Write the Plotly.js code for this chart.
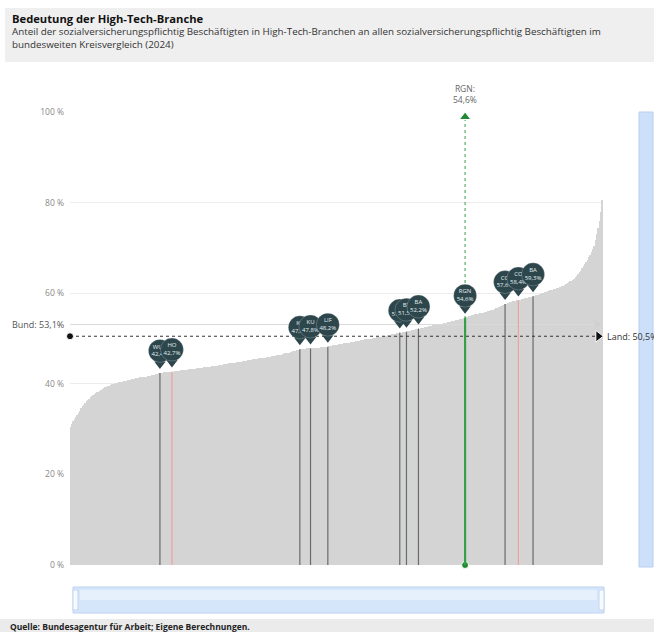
<!DOCTYPE html>
<html lang="de">
<head>
<meta charset="utf-8">
<script src="https://cdn.plot.ly/plotly-3.0.1.min.js"></script>
<style>
  html, body { margin: 0; padding: 0; background: #ffffff; }
  #chart { width: 654px; height: 632px; }
</style>
</head>
<body>
<div id="chart"></div>
<script>
// Anteil High-Tech-Beschäftigte je Kreis (sortiert, 400 Kreise), in %
const kreisWerte = [
  30.5, 31.2, 31.8, 32.3, 32.7, 33.1, 33.6, 34.1, 34.6, 35.0, 35.4, 35.8, 36.1, 36.4, 36.7, 37.0, 37.2, 37.5, 37.7, 37.9,
  38.1, 38.3, 38.5, 38.7, 38.9, 39.0, 39.2, 39.3, 39.5, 39.6, 39.8, 39.9, 40.0, 40.0, 40.1, 40.2, 40.3, 40.4, 40.4, 40.5,
  40.6, 40.7, 40.7, 40.8, 40.9, 40.9, 41.0, 41.1, 41.1, 41.2, 41.3, 41.3, 41.4, 41.4, 41.5, 41.5, 41.6, 41.6, 41.7, 41.8,
  41.8, 41.9, 42.0, 42.0, 42.1, 42.2, 42.3, 42.4, 42.4, 42.4, 42.5, 42.5, 42.5, 42.6, 42.6, 42.6, 42.7, 42.7, 42.8, 42.8,
  42.8, 42.9, 42.9, 43.0, 43.0, 43.0, 43.1, 43.1, 43.1, 43.2, 43.2, 43.2, 43.3, 43.3, 43.3, 43.4, 43.4, 43.4, 43.5, 43.5,
  43.6, 43.6, 43.7, 43.7, 43.8, 43.8, 43.9, 43.9, 44.0, 44.0, 44.0, 44.1, 44.1, 44.2, 44.2, 44.3, 44.3, 44.4, 44.4, 44.5,
  44.5, 44.6, 44.6, 44.7, 44.7, 44.8, 44.8, 44.9, 44.9, 45.0, 45.0, 45.1, 45.1, 45.2, 45.2, 45.3, 45.3, 45.4, 45.4, 45.5,
  45.5, 45.6, 45.6, 45.7, 45.7, 45.8, 45.8, 45.9, 45.9, 46.0, 46.0, 46.1, 46.1, 46.2, 46.2, 46.3, 46.3, 46.4, 46.4, 46.5,
  46.6, 46.7, 46.8, 46.9, 46.9, 47.0, 47.1, 47.2, 47.2, 47.3, 47.4, 47.5, 47.6, 47.6, 47.7, 47.7, 47.7, 47.8, 47.8, 47.8,
  47.8, 47.9, 47.9, 47.9, 48.0, 48.0, 48.0, 48.0, 48.1, 48.1, 48.1, 48.1, 48.2, 48.2, 48.3, 48.4, 48.4, 48.5, 48.5, 48.6,
  48.6, 48.7, 48.7, 48.8, 48.8, 48.9, 48.9, 49.0, 49.0, 49.1, 49.2, 49.2, 49.3, 49.3, 49.4, 49.4, 49.5, 49.5, 49.6, 49.7,
  49.7, 49.8, 49.8, 49.9, 49.9, 50.0, 50.0, 50.1, 50.1, 50.2, 50.3, 50.3, 50.4, 50.4, 50.5, 50.5, 50.6, 50.6, 50.7, 50.8,
  50.8, 50.9, 51.0, 51.0, 51.1, 51.2, 51.2, 51.3, 51.3, 51.4, 51.4, 51.5, 51.5, 51.6, 51.7, 51.7, 51.8, 51.9, 51.9, 52.0,
  52.1, 52.2, 52.2, 52.3, 52.4, 52.4, 52.5, 52.6, 52.6, 52.7, 52.8, 52.8, 52.9, 52.9, 53.0, 53.1, 53.1, 53.2, 53.2, 53.3,
  53.4, 53.4, 53.5, 53.6, 53.6, 53.7, 53.8, 53.8, 53.9, 54.0, 54.0, 54.1, 54.2, 54.3, 54.4, 54.5, 54.6, 54.7, 54.8, 54.9,
  55.0, 55.1, 55.2, 55.3, 55.4, 55.5, 55.5, 55.6, 55.6, 55.7, 55.7, 55.8, 55.9, 56.0, 56.1, 56.2, 56.3, 56.4, 56.5, 56.7,
  56.8, 56.9, 57.0, 57.1, 57.3, 57.4, 57.6, 57.7, 57.8, 57.9, 58.0, 58.1, 58.2, 58.3, 58.3, 58.4, 58.4, 58.5, 58.6, 58.7,
  58.8, 58.9, 59.0, 59.0, 59.1, 59.2, 59.2, 59.3, 59.4, 59.5, 59.6, 59.7, 59.8, 59.9, 60.0, 60.1, 60.2, 60.3, 60.4, 60.5,
  60.6, 60.7, 60.8, 60.9, 61.0, 61.1, 61.2, 61.3, 61.4, 61.5, 61.7, 61.8, 62.0, 62.2, 62.4, 62.6, 62.8, 63.0, 63.2, 63.5,
  63.8, 64.2, 64.6, 65.0, 65.5, 66.0, 66.4, 66.8, 67.3, 67.9, 68.5, 69.1, 69.8, 70.5, 71.7, 73.0, 74.5, 76.0, 78.0, 80.5
];

// Hervorgehobene Kreise der Region: Rangposition, Kürzel, Typ
const markerRang    = [67, 76, 172, 180, 193, 247, 252, 261, 296, 326, 336, 347];
const markerKuerzel = ['WUN', 'HO', 'KC', 'KU', 'LIF', 'FO', 'BT', 'BA', 'RGN', 'CO', 'CO', 'BA'];
const markerTyp     = ['lk', 'sk', 'lk', 'lk', 'lk', 'lk', 'lk', 'lk', 'rgn', 'lk', 'sk', 'lk'];

// Vergleichswerte
const bundWert = 53.1;
const landWert = 50.5;
const regionWert = 54.6;

const yTicks = [0, 20, 40, 60, 80, 100];
const yTickText = ['0 %', '20 %', '40 %', '60 %', '80 %', '100 %'];

// Plot geometry (pixels)
const W = 654, H = 632;
const M = { l: 70, r: 51, t: 112, b: 67 };
const plotW = W - M.l - M.r, plotH = H - M.t - M.b;
const Y_MAX = 100;
const PX = Y_MAX / plotH;                 // one pixel in y data units
const px2x = p => (p - M.l) / plotW;      // page x -> paper x
const py2y = p => (H - M.b - p) / plotH;  // page y -> paper y

const fmt = v => v.toFixed(1).replace('.', ',') + '%';
const FONT = '"Open Sans", "Noto Sans", sans-serif';
const lineColor = { lk: '#666b6d', sk: '#f2a0a0', rgn: '#35a048' };
const pinColor = '#2c464c';

const idx = kreisWerte.map((_, i) => i);
const traces = [];

// Sorted distribution as bars (slightly widened so neighbouring bars close up)
traces.push({
  type: 'bar', x: idx, y: kreisWerte, width: 1.35,
  marker: { color: '#d4d4d4', line: { width: 0 } },
  hoverinfo: 'skip'
});

// Bund reference line (light)
traces.push({
  type: 'scatter', mode: 'lines',
  x: [-1, kreisWerte.length - 5], y: [bundWert, bundWert],
  line: { color: '#dadada', width: 1 }, cliponaxis: false, hoverinfo: 'skip'
});
traces.push({
  type: 'scatter', mode: 'markers',
  x: [-1, kreisWerte.length - 5], y: [bundWert, bundWert],
  marker: { symbol: ['circle-open', 'triangle-right'], size: [5, 7], opacity: 1,
            color: ['#8a8a8a', '#d0d0d0'], line: { width: 1, color: ['#8a8a8a', '#d0d0d0'] } },
  cliponaxis: false, hoverinfo: 'skip'
});

// Region reference: dotted green guide up to an arrow at the top
const rgnPos = markerRang[markerTyp.indexOf('rgn')];
traces.push({
  type: 'scatter', mode: 'lines',
  x: [rgnPos, rgnPos], y: [0, Y_MAX - 3 * PX],
  line: { color: '#35a048', width: 1, dash: 'dot' }, hoverinfo: 'skip', cliponaxis: false
});
traces.push({
  type: 'scatter', mode: 'markers',
  x: [rgnPos, rgnPos], y: [Y_MAX - 5 * PX, 0],
  marker: { symbol: ['triangle-up', 'circle'], size: [10, 7], color: '#1f8a33', opacity: 1 },
  hoverinfo: 'skip', cliponaxis: false
});

// Vertical stems from the baseline to each highlighted district
['lk', 'sk', 'rgn'].forEach(t => {
  const xs = [], ys = [];
  markerRang.forEach((r, k) => {
    if (markerTyp[k] !== t) return;
    xs.push(r, r, null);
    ys.push(0, kreisWerte[r], null);
  });
  traces.push({
    type: 'scatter', mode: 'lines', x: xs, y: ys,
    line: { color: lineColor[t], width: t === 'rgn' ? 2.2 : 1.2 },
    hoverinfo: 'skip'
  });
});

// Land reference line (dotted, with arrow)
traces.push({
  type: 'scatter', mode: 'lines',
  x: [-0.5, kreisWerte.length - 4], y: [landWert, landWert],
  line: { color: '#333333', width: 1, dash: 'dot' }, cliponaxis: false, hoverinfo: 'skip'
});
traces.push({
  type: 'scatter', mode: 'markers',
  x: [-0.5, kreisWerte.length - 4], y: [landWert, landWert],
  marker: { symbol: ['circle', 'triangle-right'], size: [7, 10], color: '#111111', opacity: 1 },
  cliponaxis: false, hoverinfo: 'skip'
});

// Pins: a small tip plus a round head carrying code and value
markerRang.forEach((r, k) => {
  const v = kreisWerte[r];
  traces.push({
    type: 'scatter', mode: 'markers+text',
    x: [r, r], y: [v + 9 * PX, v + 22 * PX],
    marker: { symbol: ['triangle-down', 'circle'], size: [10, 23], color: pinColor, opacity: 1,
              line: { color: 'rgba(255,255,255,0.35)', width: [0, 0.6] } },
    text: ['', markerKuerzel[k] + '<br>' + fmt(v)],
    textposition: 'middle center',
    textfont: { family: FONT, size: 6, color: '#e4eeef' },
    hoverinfo: 'skip', cliponaxis: false
  });
});

const shapes = [
  // header band
  { type: 'rect', xref: 'paper', yref: 'paper', x0: px2x(5), x1: px2x(654), y0: py2y(62), y1: py2y(8),
    fillcolor: '#efefef', line: { width: 0 }, layer: 'below' },
  // footer band
  { type: 'rect', xref: 'paper', yref: 'paper', x0: px2x(0), x1: px2x(654), y0: py2y(632), y1: py2y(619),
    fillcolor: '#ebebeb', line: { width: 0 }, layer: 'below' },
  // vertical slider
  { type: 'rect', xref: 'paper', yref: 'paper', x0: px2x(639), x1: px2x(653), y0: py2y(567), y1: py2y(112),
    fillcolor: '#cde0f9', line: { color: '#b6cef0', width: 1 }, layer: 'below' },
  // horizontal slider
  { type: 'rect', xref: 'paper', yref: 'paper', x0: px2x(73), x1: px2x(604), y0: py2y(613), y1: py2y(587),
    fillcolor: '#d5e5fa', line: { color: '#bcd3f0', width: 1 }, layer: 'below' },
  { type: 'rect', xref: 'paper', yref: 'paper', x0: px2x(80), x1: px2x(597), y0: py2y(600), y1: py2y(590),
    fillcolor: '#e6f0fc', line: { width: 0 }, layer: 'below' },
  { type: 'rect', xref: 'paper', yref: 'paper', x0: px2x(73), x1: px2x(78), y0: py2y(610), y1: py2y(590),
    fillcolor: '#f6f9fe', line: { color: '#c4d7f1', width: 1 }, layer: 'below' },
  { type: 'rect', xref: 'paper', yref: 'paper', x0: px2x(599), x1: px2x(604), y0: py2y(610), y1: py2y(590),
    fillcolor: '#f6f9fe', line: { color: '#c4d7f1', width: 1 }, layer: 'below' }
];

const annotations = [
  { xref: 'paper', yref: 'paper', x: px2x(10), y: py2y(18), xanchor: 'left', yanchor: 'middle',
    text: '<b>Bedeutung der High-Tech-Branche</b>', showarrow: false,
    font: { family: FONT, size: 11.2, color: '#111111' } },
  { xref: 'paper', yref: 'paper', x: px2x(10), y: py2y(38), xanchor: 'left', yanchor: 'middle', align: 'left',
    text: 'Anteil der sozialversicherungspflichtig Beschäftigten in High-Tech-Branchen an allen sozialversicherungspflichtig Beschäftigten im<br>bundesweiten Kreisvergleich (2024)',
    showarrow: false, font: { family: FONT, size: 9.8, color: '#333333' } },
  { xref: 'paper', yref: 'paper', x: px2x(8), y: py2y(626), xanchor: 'left', yanchor: 'middle',
    text: '<b>Quelle: Bundesagentur für Arbeit; Eigene Berechnungen.</b>', showarrow: false,
    font: { family: FONT, size: 8.5, color: '#222222' } },
  { xref: 'x', yref: 'y', x: rgnPos, y: Y_MAX, yshift: 18, yanchor: 'middle',
    text: 'RGN:<br>' + fmt(regionWert), showarrow: false,
    font: { family: FONT, size: 8.5, color: '#666666' } },
  { xref: 'paper', yref: 'y', x: px2x(66), y: bundWert, xanchor: 'right', yanchor: 'middle',
    text: 'Bund: ' + fmt(bundWert), showarrow: false,
    font: { family: FONT, size: 9, color: '#555555' } },
  { xref: 'paper', yref: 'y', x: px2x(605), y: landWert, xanchor: 'left', yanchor: 'middle',
    text: 'Land: ' + fmt(landWert), showarrow: false,
    font: { family: FONT, size: 9, color: '#333333' } }
];

const layout = {
  width: W, height: H,
  margin: M,
  paper_bgcolor: '#ffffff', plot_bgcolor: '#ffffff',
  showlegend: false, hovermode: false,
  bargap: 0,
  font: { family: FONT },
  xaxis: { range: [-0.5, kreisWerte.length - 0.5], visible: false, fixedrange: true },
  yaxis: {
    range: [0, Y_MAX], tickvals: yTicks, ticktext: yTickText,
    showgrid: true, gridcolor: '#ececec', gridwidth: 1, zeroline: false,
    ticks: '', ticklabelstandoff: 5,
    tickfont: { family: FONT, size: 8.5, color: '#888888' }, fixedrange: true
  },
  shapes, annotations
};

Plotly.newPlot('chart', traces, layout, { staticPlot: true, displayModeBar: false });
</script>
</body>
</html>
